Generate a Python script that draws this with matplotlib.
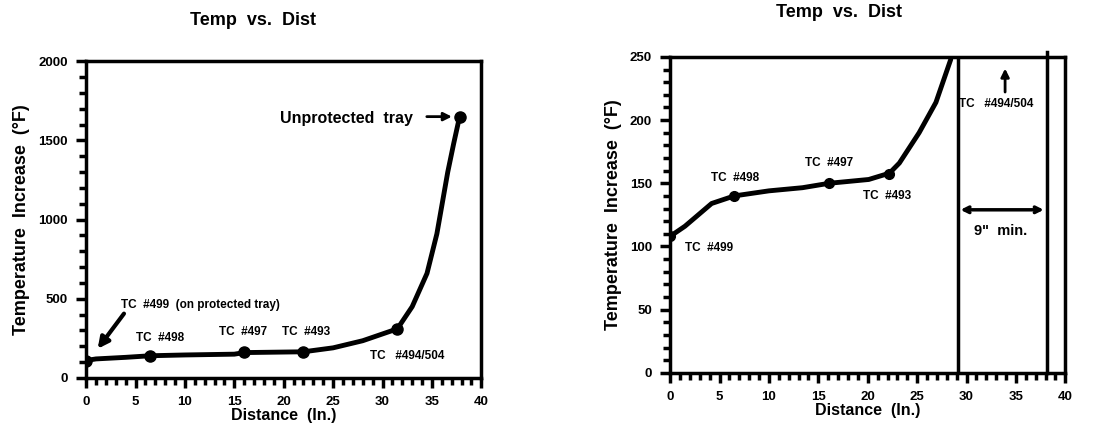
import matplotlib.pyplot as plt
from matplotlib.ticker import MultipleLocator

plt.rcParams['font.family'] = ['Liberation Sans', 'DejaVu Sans']
plt.rcParams['font.weight'] = 'bold'

# left chart: measured points and the hand-drawn curve through them
left_tc_x = [0, 6.5, 16, 22, 31.5, 37.8]
left_tc_y = [110, 140, 165, 165, 310, 1650]
left_curve_x = [0, 1, 4, 6.5, 10, 15, 16, 22, 25, 28, 31.5, 33, 34.5, 35.5, 36.6, 37.2, 37.8]
left_curve_y = [110, 120, 130, 140, 145, 150, 160, 165, 190, 235, 310, 450, 660, 910, 1300, 1480, 1650]

# right chart: same thermocouples, zoomed to 0-250
right_tc_x = [0, 6.5, 16.1, 22.2]
right_tc_y = [108, 140, 150, 157]
right_curve_x = [0, 1.5, 4.2, 6.5, 10, 13.4, 16.1, 20.1, 22.2, 23.2, 25.2, 26.9, 28.4]
right_curve_y = [108, 116, 134, 140, 144, 146.5, 150, 153, 158, 166, 190, 214, 248]
tray_edges = [29.1, 38.1]

fig = plt.figure(figsize=(11.04, 4.28), dpi=100)
ax1 = fig.add_axes([0.078, 0.117, 0.358, 0.74])
ax2 = fig.add_axes([0.607, 0.129, 0.358, 0.738])


def style(ax, ymax, ymajor, yminor):
    ax.set_xlim(0, 40)
    ax.set_ylim(0, ymax)
    ax.xaxis.set_major_locator(MultipleLocator(5))
    ax.xaxis.set_minor_locator(MultipleLocator(1))
    ax.yaxis.set_major_locator(MultipleLocator(ymajor))
    ax.yaxis.set_minor_locator(MultipleLocator(yminor))
    ax.tick_params(which='major', length=7, width=2.5, labelsize=9.5, pad=6)
    ax.tick_params(which='minor', length=5, width=2.5)
    for s in ax.spines.values():
        s.set_linewidth(2.5)
    for lab in ax.get_xticklabels() + ax.get_yticklabels():
        lab.set_fontweight('bold')
    ax.set_xlabel('Distance  (In.)', fontsize=11.5, fontweight='bold', labelpad=0)
    ax.set_ylabel('Temperature  Increase  (°F)', fontsize=13, fontweight='bold', labelpad=6)


# ---- left
style(ax1, 2000, 500, 100)
ax1.plot(left_curve_x, left_curve_y, color='black', lw=3.5, solid_capstyle='round')
ax1.plot(left_tc_x, left_tc_y, 'o', color='black', ms=8)
fig.text(0.229, 0.953, 'Temp  vs.  Dist', ha='center', va='center', fontsize=13, fontweight='bold')

ax1.annotate('', xy=(1.0, 170), xytext=(4.0, 420),
             arrowprops=dict(arrowstyle='-|>', color='black', lw=3, mutation_scale=16))
ax1.text(3.5, 425, 'TC  #499  (on protected tray)', fontsize=8.5, fontweight='bold', va='bottom')
ax1.text(7.5, 250, 'TC  #498', fontsize=8.5, fontweight='bold', ha='center', va='center')
ax1.text(15.9, 290, 'TC  #497', fontsize=8.5, fontweight='bold', ha='center', va='center')
ax1.text(22.3, 290, 'TC  #493', fontsize=8.5, fontweight='bold', ha='center', va='center')
ax1.text(32.5, 140, 'TC   #494/504', fontsize=8.5, fontweight='bold', ha='center', va='center')
ax1.text(19.6, 1640, 'Unprotected  tray', fontsize=11.5, fontweight='bold', va='center')
ax1.annotate('', xy=(37.3, 1650), xytext=(34.2, 1650),
             arrowprops=dict(arrowstyle='-|>', color='black', lw=2, mutation_scale=12))

# ---- right
style(ax2, 250, 50, 10)
ax2.plot(right_curve_x, right_curve_y, color='black', lw=3.5, solid_capstyle='round')
ax2.plot(right_tc_x, right_tc_y, 'o', color='black', ms=7)
fig.text(0.760, 0.97, 'Temp  vs.  Dist', ha='center', va='center', fontsize=13, fontweight='bold')

ax2.plot([tray_edges[0]] * 2, [0, 250], color='black', lw=2.5)
ax2.plot([tray_edges[1]] * 2, [0, 254], color='black', lw=2.5, clip_on=False)
ax2.annotate('', xy=(tray_edges[0], 129), xytext=(tray_edges[1], 129),
             arrowprops=dict(arrowstyle='<->', color='black', lw=2.5, mutation_scale=10))
ax2.text(33.4, 112, '9"  min.', fontsize=10.5, fontweight='bold', ha='center', va='center')
ax2.annotate('', xy=(33.9, 243), xytext=(33.9, 220),
             arrowprops=dict(arrowstyle='-|>', color='black', lw=2, mutation_scale=12))
ax2.text(29.2, 213, 'TC   #494/504', fontsize=8.5, fontweight='bold', va='center')
ax2.text(3.9, 99, 'TC  #499', fontsize=8.5, fontweight='bold', ha='center', va='center')
ax2.text(6.6, 154, 'TC  #498', fontsize=8.5, fontweight='bold', ha='center', va='center')
ax2.text(16.1, 166, 'TC  #497', fontsize=8.5, fontweight='bold', ha='center', va='center')
ax2.text(22.0, 140, 'TC  #493', fontsize=8.5, fontweight='bold', ha='center', va='center')

fig.savefig('out.png', dpi=100)
